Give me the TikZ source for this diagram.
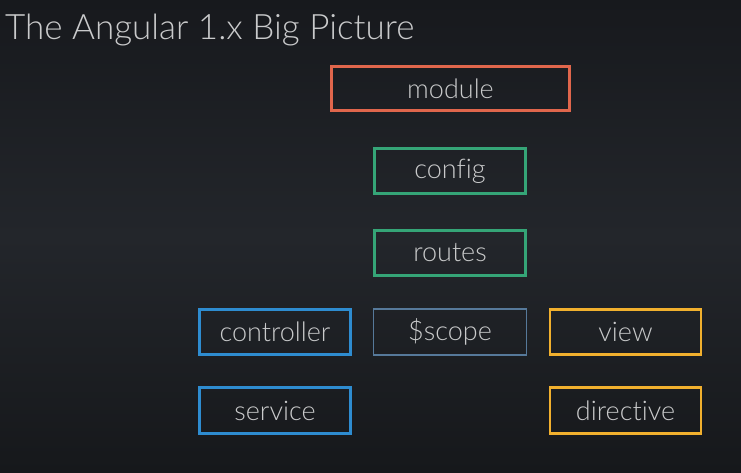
\documentclass[tikz,border=0pt]{standalone}
\usepackage{fontspec}
\setmainfont{Lato}[UprightFont=* Light,Ligatures=NoCommon]
\begin{document}
\begin{tikzpicture}[x=1pt,y=-1pt,
  box/.style={draw,line width=2.6pt,minimum width=#1,text=boxtext,font=\fontsize{27}{30}\selectfont,inner sep=0pt},
  box/.default=151pt]
\definecolor{boxtext}{HTML}{C9CACB}
\definecolor{orangec}{HTML}{E0664C}
\definecolor{greenc}{HTML}{35A577}
\definecolor{bluec}{HTML}{2E8CD0}
\definecolor{scopec}{HTML}{56799A}
\definecolor{yellowc}{HTML}{F1B02E}
\definecolor{bgtop}{HTML}{17191D}
\definecolor{bgmid}{HTML}{23262B}
\definecolor{bgbot}{HTML}{16181B}
\useasboundingbox (0,0) rectangle (741,473);
\shade[top color=bgtop,bottom color=bgbot,middle color=bgmid] (0,0) rectangle (741,473);
\node[anchor=base west,text=boxtext,font=\fontsize{35}{38}\selectfont,inner sep=0pt] (title) at (5,40) {The Angular 1.x Big Picture};
\node[box=238pt,draw=orangec,minimum height=44pt] (module) at (450.5,88.5) {module};
\node[box,draw=greenc,minimum height=45pt] (config) at (450,171) {config};
\node[box,draw=greenc,minimum height=45pt] (routes) at (450,253) {routes};
\node[box,draw=bluec,minimum height=45pt] (controller) at (275,332) {controller};
\node[box,draw=scopec,line width=1.4pt,minimum height=46pt,minimum width=153pt] (scope) at (450,332) {\$scope};
\node[box,draw=yellowc,minimum height=45pt] (view) at (625.5,332) {view};
\node[box,draw=bluec,minimum height=46pt] (service) at (275,410.5) {service};
\node[box,draw=yellowc,minimum height=46pt] (directive) at (625.5,410.5) {directive};
\end{tikzpicture}
\end{document}
